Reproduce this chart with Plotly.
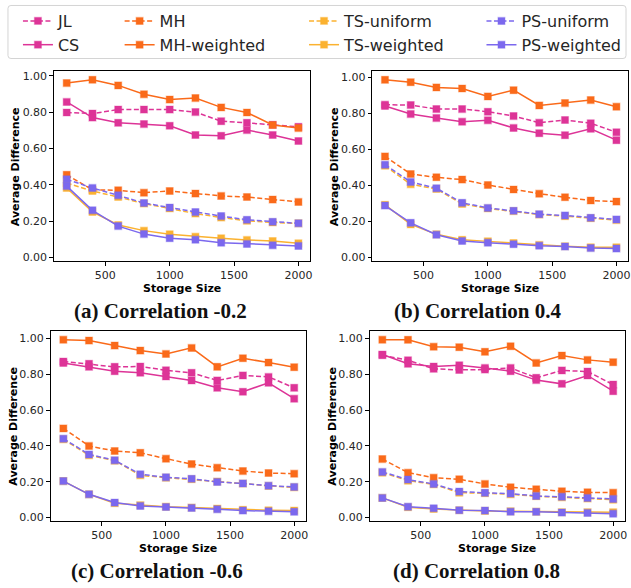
import plotly.graph_objects as go

W, H = 631, 588

storage_size = [200, 400, 600, 800, 1000, 1200, 1400, 1600, 1800, 2000]

series_names = ["JL", "CS", "MH", "MH-weighted", "TS-uniform", "TS-weighted", "PS-uniform", "PS-weighted"]

panel_titles = ["(a) Correlation -0.2", "(b) Correlation 0.4", "(c) Correlation -0.6", "(d) Correlation 0.8"]

# panel (a) correlation -0.2
a_JL = [0.798, 0.792, 0.814, 0.814, 0.814, 0.800, 0.750, 0.741, 0.730, 0.719]
a_CS = [0.856, 0.770, 0.741, 0.734, 0.725, 0.674, 0.670, 0.701, 0.674, 0.641]
a_MH = [0.455, 0.373, 0.370, 0.357, 0.366, 0.352, 0.339, 0.333, 0.319, 0.306]
a_MHw = [0.960, 0.978, 0.947, 0.898, 0.869, 0.877, 0.826, 0.798, 0.729, 0.712]
a_TSu = [0.410, 0.366, 0.333, 0.297, 0.270, 0.242, 0.220, 0.202, 0.193, 0.188]
a_TSw = [0.383, 0.251, 0.179, 0.148, 0.128, 0.115, 0.106, 0.097, 0.091, 0.078]
a_PSu = [0.430, 0.383, 0.342, 0.300, 0.275, 0.250, 0.228, 0.208, 0.197, 0.188]
a_PSw = [0.393, 0.260, 0.173, 0.129, 0.106, 0.098, 0.082, 0.075, 0.067, 0.064]

# panel (b) correlation 0.4
b_JL = [0.849, 0.847, 0.825, 0.825, 0.810, 0.786, 0.749, 0.764, 0.746, 0.696]
b_CS = [0.842, 0.797, 0.775, 0.755, 0.762, 0.720, 0.691, 0.680, 0.715, 0.652]
b_MH = [0.562, 0.464, 0.446, 0.433, 0.403, 0.378, 0.355, 0.335, 0.317, 0.311]
b_MHw = [0.987, 0.974, 0.945, 0.939, 0.895, 0.930, 0.845, 0.858, 0.875, 0.838]
b_TSu = [0.510, 0.407, 0.381, 0.298, 0.273, 0.258, 0.239, 0.230, 0.219, 0.208]
b_TSw = [0.293, 0.184, 0.129, 0.099, 0.090, 0.081, 0.070, 0.063, 0.057, 0.057]
b_PSu = [0.516, 0.420, 0.385, 0.304, 0.276, 0.260, 0.241, 0.234, 0.221, 0.212]
b_PSw = [0.289, 0.193, 0.127, 0.092, 0.083, 0.074, 0.066, 0.061, 0.053, 0.050]

# panel (c) correlation -0.6
c_JL = [0.872, 0.859, 0.842, 0.844, 0.823, 0.809, 0.766, 0.794, 0.786, 0.725]
c_CS = [0.864, 0.842, 0.818, 0.809, 0.788, 0.766, 0.725, 0.703, 0.753, 0.664]
c_MH = [0.498, 0.400, 0.372, 0.362, 0.329, 0.299, 0.279, 0.260, 0.249, 0.245]
c_MHw = [0.994, 0.989, 0.961, 0.933, 0.914, 0.948, 0.842, 0.890, 0.866, 0.840]
c_TSu = [0.437, 0.348, 0.318, 0.236, 0.223, 0.214, 0.201, 0.190, 0.177, 0.169]
c_TSw = [0.204, 0.130, 0.080, 0.069, 0.061, 0.056, 0.050, 0.043, 0.041, 0.039]
c_PSu = [0.441, 0.353, 0.320, 0.242, 0.225, 0.217, 0.199, 0.191, 0.178, 0.171]
c_PSw = [0.204, 0.130, 0.084, 0.065, 0.059, 0.054, 0.046, 0.039, 0.035, 0.032]

# panel (d) correlation 0.8
d_JL = [0.907, 0.879, 0.831, 0.825, 0.827, 0.836, 0.781, 0.822, 0.816, 0.743]
d_CS = [0.911, 0.859, 0.844, 0.851, 0.836, 0.818, 0.768, 0.747, 0.794, 0.706]
d_MH = [0.327, 0.251, 0.223, 0.214, 0.188, 0.169, 0.158, 0.147, 0.141, 0.139]
d_MHw = [0.994, 0.993, 0.955, 0.952, 0.926, 0.957, 0.864, 0.905, 0.881, 0.868]
d_TSu = [0.251, 0.206, 0.186, 0.139, 0.136, 0.130, 0.119, 0.113, 0.106, 0.100]
d_TSw = [0.110, 0.058, 0.048, 0.041, 0.037, 0.035, 0.033, 0.030, 0.030, 0.030]
d_PSu = [0.255, 0.212, 0.188, 0.145, 0.138, 0.134, 0.121, 0.117, 0.110, 0.104]
d_PSw = [0.110, 0.061, 0.052, 0.041, 0.039, 0.033, 0.032, 0.028, 0.026, 0.022]

y_tick_vals = [0.0, 0.2, 0.4, 0.6, 0.8, 1.0]
y_tick_text = ["0.00", "0.20", "0.40", "0.60", "0.80", "1.00"]
x_tick_vals = [500, 1000, 1500, 2000]
x_tick_text = ["500", "1000", "1500", "2000"]

panels = [
    [a_JL, a_CS, a_MH, a_MHw, a_TSu, a_TSw, a_PSu, a_PSw],
    [b_JL, b_CS, b_MH, b_MHw, b_TSu, b_TSw, b_PSu, b_PSw],
    [c_JL, c_CS, c_MH, c_MHw, c_TSu, c_TSw, c_PSu, c_PSw],
    [d_JL, d_CS, d_MH, d_MHw, d_TSu, d_TSw, d_PSu, d_PSw],
]

PINK = "#dd3497"
ORANGE = "#fa6a1a"
YELLOW = "#fbb230"
PURPLE = "#7b68ee"
colors = [PINK, PINK, ORANGE, ORANGE, YELLOW, YELLOW, PURPLE, PURPLE]
dashes = ["5px,2.5px", "solid"] * 4
legend_ids = ["legend", "legend", "legend2", "legend2", "legend3", "legend3", "legend4", "legend4"]

def hex_rgba(h, a):
    h = h.lstrip("#")
    return "rgba(%d,%d,%d,%.2f)" % (int(h[0:2], 16), int(h[2:4], 16), int(h[4:6], 16), a)

# pixel boxes of each axes: (left, right, top, bottom)
boxes = [
    (54.0, 311.0, 70.0, 261.4),
    (373.3, 630.0, 70.0, 261.4),
    (50.7, 306.7, 331.7, 523.6),
    (370.7, 626.7, 331.7, 523.6),
]
y_ranges = [[-0.02, 1.024], [-0.02, 1.034], [-0.02, 1.043], [-0.02, 1.043]]

fig = go.Figure()
for p, data in enumerate(panels):
    xa = "x" if p == 0 else "x%d" % (p + 1)
    ya = "y" if p == 0 else "y%d" % (p + 1)
    for i, name in enumerate(series_names):
        fig.add_trace(go.Scatter(
            x=storage_size, y=data[i], name=name, xaxis=xa, yaxis=ya,
            mode="lines+markers",
            line=dict(color=colors[i], width=1.5, dash=dashes[i]),
            marker=dict(symbol="square", size=7, color=colors[i],
                        line=dict(color=hex_rgba(colors[i], 0.35), width=1.2)),
            showlegend=(p == 0), legend=legend_ids[i],
        ))

font_main = "DejaVu Sans"
layout = dict(
    width=W, height=H, margin=dict(l=0, r=0, t=0, b=0),
    paper_bgcolor="white", plot_bgcolor="white",
    font=dict(family=font_main, size=11, color="#262626"),
)
for p, (l, r, t, b) in enumerate(boxes):
    sx = "xaxis" if p == 0 else "xaxis%d" % (p + 1)
    sy = "yaxis" if p == 0 else "yaxis%d" % (p + 1)
    ya = "y" if p == 0 else "y%d" % (p + 1)
    xa = "x" if p == 0 else "x%d" % (p + 1)
    layout[sx] = dict(domain=[l / W, r / W], anchor=ya, range=[100, 2090],
                      tickvals=x_tick_vals, ticktext=x_tick_text,
                      showline=True, mirror=True, linecolor="black", linewidth=1,
                      ticks="outside", ticklen=3.5, tickwidth=0.8, tickcolor="black",
                      showgrid=False, zeroline=False, tickfont=dict(size=11, color="#262626"))
    layout[sy] = dict(domain=[1 - b / H, 1 - t / H], anchor=xa, range=y_ranges[p],
                      tickvals=y_tick_vals, ticktext=y_tick_text,
                      showline=True, mirror=True, linecolor="black", linewidth=1,
                      ticks="outside", ticklen=3.5, tickwidth=0.8, tickcolor="black",
                      showgrid=False, zeroline=False, tickfont=dict(size=11, color="#262626"))

# legends: one per column
leg_x = [18, 120, 305, 483]
for k, lx in enumerate(leg_x):
    key = "legend" if k == 0 else "legend%d" % (k + 1)
    layout[key] = dict(x=lx / W, xanchor="left", y=1 - 2 / H, yanchor="top",
                       orientation="v", bgcolor="rgba(0,0,0,0)", borderwidth=0,
                       font=dict(family=font_main, size=16, color="#262626"),
                       tracegroupgap=0, itemwidth=30)

fig.update_layout(**layout)

# legend frame (rounded), pixel corners converted to paper coordinates
x0, x1, y0, y1, rr = 8, 628, 3.5, 57, 3

def P(x, y):
    return "%f,%f" % (x / W, 1 - y / H)

legend_path = ("M " + P(x0 + rr, y0) + " L " + P(x1 - rr, y0) + " Q " + P(x1, y0) + " " + P(x1, y0 + rr) +
               " L " + P(x1, y1 - rr) + " Q " + P(x1, y1) + " " + P(x1 - rr, y1) +
               " L " + P(x0 + rr, y1) + " Q " + P(x0, y1) + " " + P(x0, y1 - rr) +
               " L " + P(x0, y0 + rr) + " Q " + P(x0, y0) + " " + P(x0 + rr, y0) + " Z")
fig.add_shape(type="path", path=legend_path, xref="paper", yref="paper",
              line=dict(color="#d4d4d4", width=1), fillcolor="rgba(255,255,255,0.8)", layer="below")

# annotations
ytitle_x = [15, 335, 12.7, 332.7]
xtitle_top = [281.5, 281.5, 543.5, 543.5]
sub_x = [161, 480, 158, 478]
sub_y = [312, 312, 574, 574]
for p, (l, r, t, b) in enumerate(boxes):
    fig.add_annotation(text="<b>Average Difference</b>", x=ytitle_x[p] / W, y=1 - ((t + b) / 2) / H,
                       xref="paper", yref="paper", showarrow=False, textangle=-90,
                       xanchor="center", yanchor="middle",
                       font=dict(family=font_main, size=11, color="black"))
    fig.add_annotation(text="<b>Storage Size</b>", x=((l + r) / 2) / W, y=1 - xtitle_top[p] / H,
                       xref="paper", yref="paper", showarrow=False,
                       xanchor="center", yanchor="top", borderpad=0,
                       font=dict(family=font_main, size=11, color="black"))
    fig.add_annotation(text="<b>%s</b>" % panel_titles[p], x=sub_x[p] / W, y=1 - sub_y[p] / H,
                       xref="paper", yref="paper", showarrow=False,
                       xanchor="center", yanchor="middle",
                       font=dict(family="Liberation Serif", size=21, color="#111111"))

fig.write_html("out.html")
